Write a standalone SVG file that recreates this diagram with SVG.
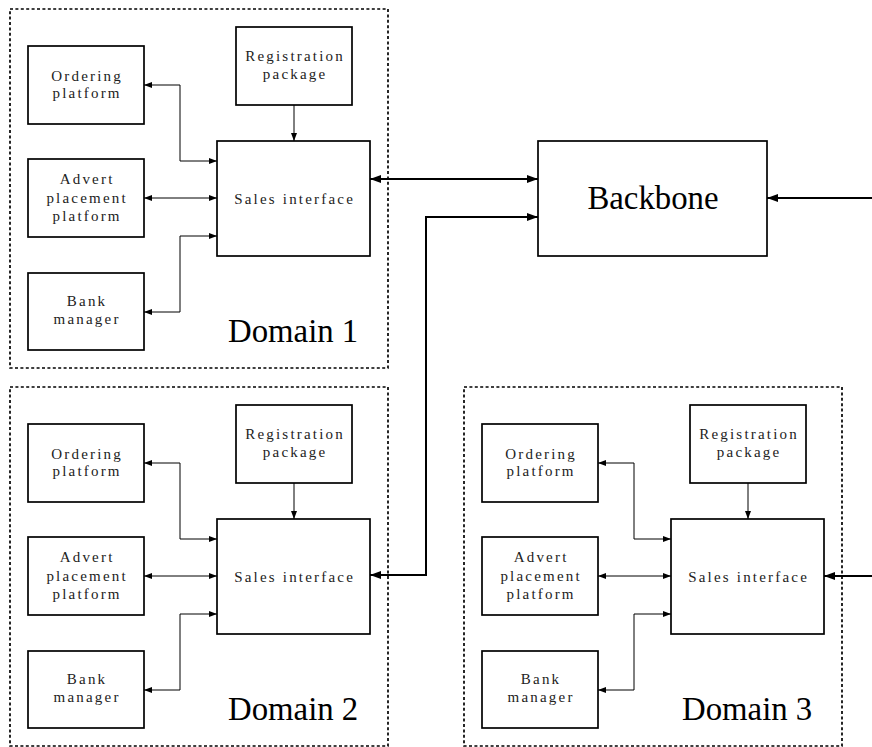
<svg xmlns="http://www.w3.org/2000/svg" width="872" height="747" viewBox="0 0 872 747">
  <style>
    .box { fill: #fff; stroke: #000; stroke-width: 1.7; }
    .domain { fill: none; stroke: #000; stroke-width: 1.7; stroke-dasharray: 3 2.4; }
    .lbl { font-family: "Liberation Serif", "Times New Roman", serif; font-size: 15px; letter-spacing: 2.2px; text-anchor: middle; fill: #222; }
    .big { font-family: "Liberation Serif", "Times New Roman", serif; font-size: 32.8px; fill: #000; }
    .thin { fill: none; stroke: #000; stroke-width: 1; }
    .thick { fill: none; stroke: #000; stroke-width: 2; }
  </style>
  <defs>
    <marker id="ah" markerUnits="userSpaceOnUse" viewBox="0 0 8 6" markerWidth="8" markerHeight="6" refX="8" refY="3" orient="auto-start-reverse">
      <path d="M0,0 L8,3 L0,6 z" fill="#000"/>
    </marker>
    <marker id="ahBig" markerUnits="userSpaceOnUse" viewBox="0 0 11 8" markerWidth="11" markerHeight="8" refX="11" refY="4" orient="auto-start-reverse">
      <path d="M0,0 L11,4 L0,8 z" fill="#000"/>
    </marker>
  </defs>

  <rect width="872" height="747" fill="#fff"/>

  <!-- domain frames -->
  <g id="domains">
    <rect id="domain1" class="domain" x="10" y="9" width="378" height="359"/>
    <rect id="domain2" class="domain" x="10" y="387" width="378" height="359"/>
    <rect id="domain3" class="domain" x="464" y="387" width="378" height="359"/>
  </g>

  <!-- connectors -->
  <g id="connectors">
    <g id="conn-d1">
      <path class="thin" d="M217,161 H180 V85 H144" marker-start="url(#ah)" marker-end="url(#ah)"/>
      <path class="thin" d="M217,198 H144" marker-start="url(#ah)" marker-end="url(#ah)"/>
      <path class="thin" d="M217,236 H180 V312 H144" marker-start="url(#ah)" marker-end="url(#ah)"/>
      <path class="thin" d="M294,105 V141" marker-end="url(#ah)"/>
    </g>
    <g id="conn-d2" transform="translate(0,378)">
      <path class="thin" d="M217,161 H180 V85 H144" marker-start="url(#ah)" marker-end="url(#ah)"/>
      <path class="thin" d="M217,198 H144" marker-start="url(#ah)" marker-end="url(#ah)"/>
      <path class="thin" d="M217,236 H180 V312 H144" marker-start="url(#ah)" marker-end="url(#ah)"/>
      <path class="thin" d="M294,105 V141" marker-end="url(#ah)"/>
    </g>
    <g id="conn-d3" transform="translate(454,378)">
      <path class="thin" d="M217,161 H180 V85 H144" marker-start="url(#ah)" marker-end="url(#ah)"/>
      <path class="thin" d="M217,198 H144" marker-start="url(#ah)" marker-end="url(#ah)"/>
      <path class="thin" d="M217,236 H180 V312 H144" marker-start="url(#ah)" marker-end="url(#ah)"/>
      <path class="thin" d="M294,105 V141" marker-end="url(#ah)"/>
    </g>
    <g id="conn-backbone">
      <path class="thick" d="M370,179 H538" marker-start="url(#ahBig)" marker-end="url(#ahBig)"/>
      <path class="thick" d="M370,575 H426 V217 H538" marker-start="url(#ahBig)" marker-end="url(#ahBig)"/>
      <path class="thick" d="M872,198 H767" marker-end="url(#ahBig)"/>
      <path class="thick" d="M872,576 H824" marker-end="url(#ahBig)"/>
    </g>
  </g>

  <!-- backbone -->
  <g id="backbone">
    <rect class="box" x="538" y="141" width="229" height="115"/>
    <text class="big" x="653" y="209" text-anchor="middle">Backbone</text>
  </g>

  <!-- domain 1 -->
  <g id="d1">
    <g id="d1-ordering">
      <rect class="box" x="28" y="46" width="116" height="78"/>
      <text class="lbl" x="87.1" y="80.5">Ordering</text>
      <text class="lbl" x="87.1" y="98">platform</text>
    </g>
    <g id="d1-advert">
      <rect class="box" x="28" y="159" width="116" height="78"/>
      <text class="lbl" x="87.1" y="184">Advert</text>
      <text class="lbl" x="87.1" y="202.5">placement</text>
      <text class="lbl" x="87.1" y="221">platform</text>
    </g>
    <g id="d1-bank">
      <rect class="box" x="28" y="273" width="116" height="77"/>
      <text class="lbl" x="87.1" y="306">Bank</text>
      <text class="lbl" x="87.1" y="324">manager</text>
    </g>
    <g id="d1-registration">
      <rect class="box" x="236" y="27" width="116" height="78"/>
      <text class="lbl" x="295.1" y="61">Registration</text>
      <text class="lbl" x="295.1" y="79">package</text>
    </g>
    <g id="d1-sales">
      <rect class="box" x="217" y="141" width="153" height="115"/>
      <text class="lbl" x="294.6" y="204">Sales interface</text>
    </g>
    <text id="d1-title" class="big" x="228" y="342">Domain 1</text>
  </g>

  <!-- domain 2 -->
  <g id="d2" transform="translate(0,378)">
    <g id="d2-ordering">
      <rect class="box" x="28" y="46" width="116" height="78"/>
      <text class="lbl" x="87.1" y="80.5">Ordering</text>
      <text class="lbl" x="87.1" y="98">platform</text>
    </g>
    <g id="d2-advert">
      <rect class="box" x="28" y="159" width="116" height="78"/>
      <text class="lbl" x="87.1" y="184">Advert</text>
      <text class="lbl" x="87.1" y="202.5">placement</text>
      <text class="lbl" x="87.1" y="221">platform</text>
    </g>
    <g id="d2-bank">
      <rect class="box" x="28" y="273" width="116" height="77"/>
      <text class="lbl" x="87.1" y="306">Bank</text>
      <text class="lbl" x="87.1" y="324">manager</text>
    </g>
    <g id="d2-registration">
      <rect class="box" x="236" y="27" width="116" height="78"/>
      <text class="lbl" x="295.1" y="61">Registration</text>
      <text class="lbl" x="295.1" y="79">package</text>
    </g>
    <g id="d2-sales">
      <rect class="box" x="217" y="141" width="153" height="115"/>
      <text class="lbl" x="294.6" y="204">Sales interface</text>
    </g>
    <text id="d2-title" class="big" x="228" y="342">Domain 2</text>
  </g>

  <!-- domain 3 -->
  <g id="d3" transform="translate(454,378)">
    <g id="d3-ordering">
      <rect class="box" x="28" y="46" width="116" height="78"/>
      <text class="lbl" x="87.1" y="80.5">Ordering</text>
      <text class="lbl" x="87.1" y="98">platform</text>
    </g>
    <g id="d3-advert">
      <rect class="box" x="28" y="159" width="116" height="78"/>
      <text class="lbl" x="87.1" y="184">Advert</text>
      <text class="lbl" x="87.1" y="202.5">placement</text>
      <text class="lbl" x="87.1" y="221">platform</text>
    </g>
    <g id="d3-bank">
      <rect class="box" x="28" y="273" width="116" height="77"/>
      <text class="lbl" x="87.1" y="306">Bank</text>
      <text class="lbl" x="87.1" y="324">manager</text>
    </g>
    <g id="d3-registration">
      <rect class="box" x="236" y="27" width="116" height="78"/>
      <text class="lbl" x="295.1" y="61">Registration</text>
      <text class="lbl" x="295.1" y="79">package</text>
    </g>
    <g id="d3-sales">
      <rect class="box" x="217" y="141" width="153" height="115"/>
      <text class="lbl" x="294.6" y="204">Sales interface</text>
    </g>
    <text id="d3-title" class="big" x="228" y="342">Domain 3</text>
  </g>
</svg>
